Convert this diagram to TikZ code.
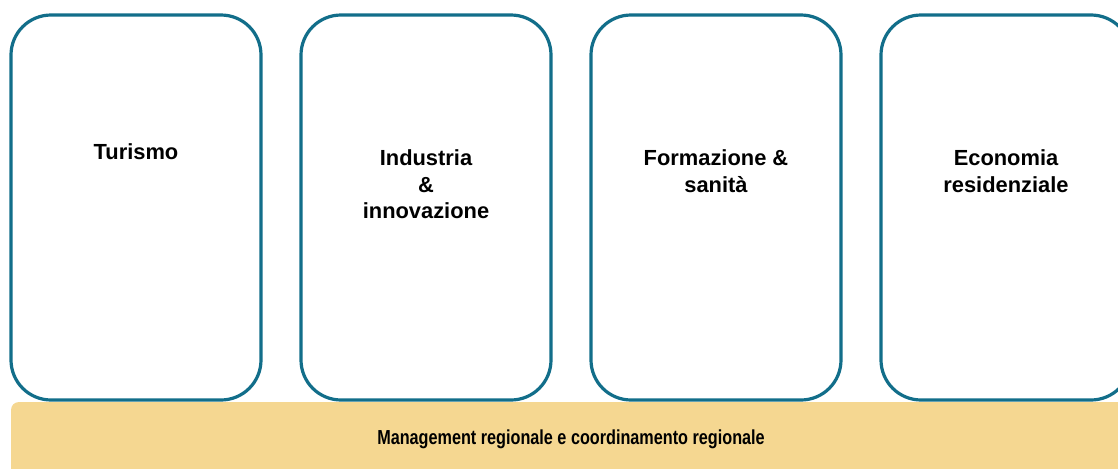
\documentclass[tikz,border=0pt]{standalone}
\usepackage{fontspec}
\setmainfont{Liberation Sans}
\newfontfamily\bandfont[FakeStretch=0.8]{Liberation Sans}
\definecolor{sectorline}{RGB}{18,110,138}
\definecolor{bandfill}{RGB}{245,215,145}

\begin{document}
\begin{tikzpicture}[x=0.75pt, y=-0.75pt,
  sector/.style = {shape=rectangle, rounded corners=30pt,
    draw=sectorline, line width=2.4pt, fill=white,
    minimum width=187.5pt, minimum height=288.75pt},
  title/.style = {align=center, font=\fontsize{16.4}{20}\selectfont\bfseries}]
  \useasboundingbox (0,0) rectangle (1118,468);
  \begin{scope}
  \clip (0,0) rectangle (1118,468);
  % four sector boxes
  \node [sector] (turismo) at (136,207.5) {};
  \node [sector] (industria) at (426,207.5) {};
  \node [sector] (formazione) at (716,207.5) {};
  \node [sector] (economia) at (1006,207.5) {};
  % common base band
  \fill [bandfill, rounded corners=6pt] (11,402) rectangle (1150,500);
  \end{scope}
  \node [title] (turismo-t) at (136,152) {Turismo};
  \node [title] (industria-t) at (426,184.5) {Industria\\\&\\innovazione};
  \node [title] (formazione-t) at (716,171.5) {Formazione \&\\sanità};
  \node [title] (economia-t) at (1006,171.5) {Economia\\residenziale};
  \node [font=\bandfont\bfseries\fontsize{15.2}{18}\selectfont] (band-t) at (571,439)
    {Management regionale e coordinamento regionale};
\end{tikzpicture}
\end{document}
